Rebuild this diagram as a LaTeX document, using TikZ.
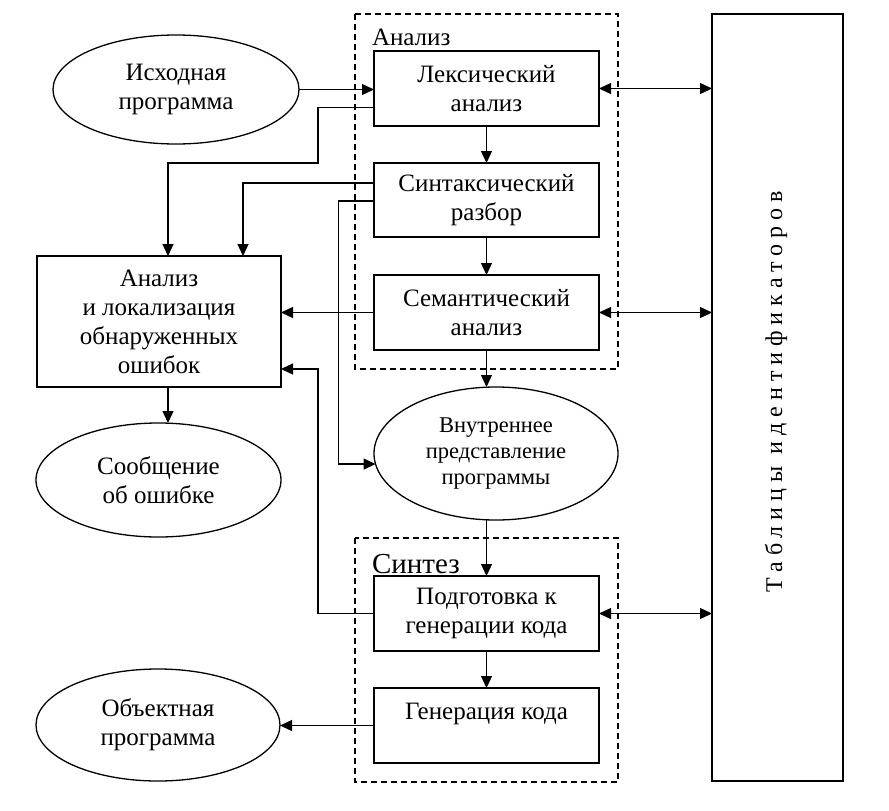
\documentclass[tikz,border=0pt]{standalone}
\usepackage{fontspec}
\setmainfont{Liberation Serif}
\newfontfamily\spacedfont[LetterSpace=25]{Liberation Serif}
\usetikzlibrary{shapes.geometric,arrows.meta}
\tikzset{
  every node/.style={font=\fontsize{25}{29}\selectfont, align=center, inner sep=0pt, outer sep=0pt},
  blk/.style={draw, line width=1.3pt, rectangle, minimum width=225pt, minimum height=75pt},
  oval/.style={draw, line width=1.3pt, ellipse},
  grp/.style={line width=1.2pt, dash pattern=on 6pt off 4pt},
  arr/.style={line width=1.3pt, -{Triangle[length=12pt,width=11pt]}},
  darr/.style={line width=1.3pt, {Triangle[length=12pt,width=11pt]}-{Triangle[length=12pt,width=11pt]}},
  grplabel/.style={anchor=base west}
}
\begin{document}
\begin{tikzpicture}[x=1pt,y=-1pt]
\useasboundingbox (0,0) rectangle (889,811);
% group frames
\draw[grp] (355,14) rectangle (618,369);
\draw[grp] (355,538) rectangle (618,782);
\node[grplabel] (lanal) at (372,45) {Анализ};
\node[grplabel, font=\fontsize{29}{32}\selectfont] (lsynt) at (372,573) {Синтез};
% boxes
\node[blk] (lex) at (486.5,88.5) {Лексический\\анализ};
\node[blk, minimum height=74pt] (syn) at (486.5,200) {Синтаксический\\разбор};
\node[blk] (sem) at (486.5,312.5) {Семантический\\анализ};
\node[blk] (pod) at (486.5,613.5) {Подготовка к\\генерации кода};
\node[blk] (gen) at (486.5,725.5) {Генерация кода\\\phantom{к}};
\node[draw, line width=1.3pt, minimum width=244pt, minimum height=131pt] (err) at (159,321.5)
  {Анализ\\и локализация\\обнаруженных\\ошибок};
\node[draw, line width=1.3pt, minimum width=131pt, minimum height=767pt] (tab) at (777.5,397.5) {};
\node[rotate=90, anchor=base, font=\fontsize{24}{28}\spacedfont] (tabtext) at (782,392) {Таблицы идентификаторов};
% ellipses
\node[oval, minimum width=246pt, minimum height=109pt] (src) at (176,89.5) {Исходная\\программа};
\node[oval, minimum width=245pt, minimum height=114pt] (msg) at (158.5,480) {Сообщение\\об ошибке};
\node[oval, minimum width=244pt, minimum height=112pt] (obj) at (158,725) {Объектная\\программа};
\node[oval, minimum width=244pt, minimum height=133pt, font=\fontsize{22.5}{26}\selectfont] (int) at (496,453.5)
  {Внутреннее\\представление\\программы};
% bend points
\coordinate (b1) at (318,163);
\coordinate (b3) at (318,369);
% connectors
\draw[arr] (src.east) -- (src.east -| lex.west);
\draw[arr] ([yshift=-19pt]lex.west) -| (b1) -| ([xshift=9pt]err.north);
\draw[arr] ([yshift=17pt]syn.west) -| ([xshift=84pt]err.north);
\draw[arr] ([yshift=-1pt]syn.west) -| ([xshift=-37pt]int.185) -- (int.185);
\draw[arr] (sem.west) -- (sem.west -| err.east);
\draw[arr] (pod.west) -| (b3) -- (b3 -| err.east);
\draw[arr] ([xshift=9pt]err.south) -- ([xshift=9pt]err.south |- msg.north);
\draw[arr] (lex.south) -- (syn.north);
\draw[arr] (syn.south) -- (sem.north);
\draw[arr] (sem.south) -- (sem.south |- int.north);
\draw[arr] (int.south -| pod.north) -- (pod.north);
\draw[arr] (pod.south) -- (gen.north);
\draw[arr] (gen.west) -- (gen.west -| obj.east);
\draw[darr] (lex.east) -- (lex.east -| tab.west);
\draw[darr] (sem.east) -- (sem.east -| tab.west);
\draw[darr] (pod.east) -- (pod.east -| tab.west);
\end{tikzpicture}
\end{document}
